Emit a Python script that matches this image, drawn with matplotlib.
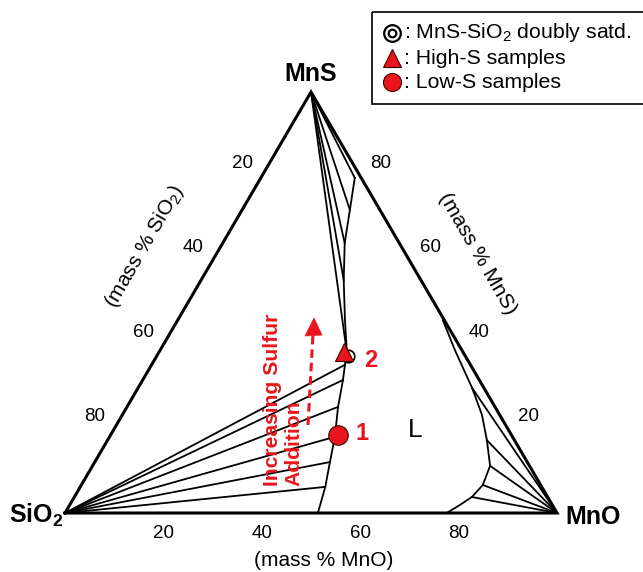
import matplotlib
matplotlib.use('Agg')
import matplotlib.pyplot as plt
from matplotlib.patches import Rectangle, Polygon
import numpy as np

plt.rcParams['font.family'] = ['Liberation Sans', 'DejaVu Sans']
plt.rcParams['mathtext.default'] = 'regular'

# compositions in mass % given as (MnO, MnS); SiO2 is the remainder
# SiO2-saturated liquidus, bottom edge up to the doubly saturated point
sio2_liq_mno = [51.4, 49.8, 47.8, 45.8, 42.9, 40.7, 39.3, 38.3]
sio2_liq_mns = [0.0, 6.2, 12.1, 18.1, 25.2, 31.6, 35.2, 38.0]
sio2_ties = [1, 2, 3, 4, 5, 6]

# MnS-saturated liquidus
mns_liq_mno = [19.1, 21.9, 24.8, 29.0, 34.0, 38.3]
mns_liq_mns = [79.6, 72.0, 64.1, 55.3, 45.8, 38.0]
mns_ties = [0, 1, 2, 3, 5]

# MnO-saturated liquidus
mno_liq_mno = [53.9, 59.9, 67.9, 73.1, 77.1, 80.8, 81.6, 80.8, 79.3, 77.6]
mno_liq_mns = [45.8, 38.7, 29.7, 23.3, 17.3, 11.2, 6.65, 3.8, 1.9, 0.0]
mno_ties = [2, 4, 5, 6, 7]

doubly_sat = (38.9, 37.3)
high_s = (37.6, 38.2)
low_s = (46.2, 18.5)

edge_ticks = [20, 40, 60, 80]

red = '#e8161c'


def tern(mno, mns):
    mno = np.asarray(mno, dtype=float)
    mns = np.asarray(mns, dtype=float)
    return (mno + mns / 2) / 100, mns / 100


W, H = 643, 572
fig = plt.figure(figsize=(W / 100, H / 100), dpi=100)
ax = fig.add_axes([65 / W, 59 / H, 492 / W, 421 / H])
ax.set_xlim(0, 1)
ax.set_ylim(0, 1)
ax.axis('off')

# triangle frame
fx, fy = tern([0, 100, 0, 0], [0, 0, 100, 0])
ax.plot(fx, fy, color='black', lw=2.2, solid_joinstyle='miter', clip_on=False, zorder=3)

lw_thin = 1.3
# SiO2 side
x, y = tern(sio2_liq_mno, sio2_liq_mns)
ax.plot(x, y, color='black', lw=lw_thin, clip_on=False)
vx, vy = tern(0, 0)
for i in sio2_ties:
    ax.plot([vx, x[i]], [vy, y[i]], color='black', lw=lw_thin)

# MnS side
x, y = tern(mns_liq_mno, mns_liq_mns)
ax.plot(x, y, color='black', lw=lw_thin)
vx, vy = tern(0, 100)
for i in mns_ties:
    ax.plot([vx, x[i]], [vy, y[i]], color='black', lw=lw_thin)

# MnO side
x, y = tern(mno_liq_mno, mno_liq_mns)
ax.plot(x, y, color='black', lw=lw_thin)
vx, vy = tern(100, 0)
for i in mno_ties:
    ax.plot([vx, x[i]], [vy, y[i]], color='black', lw=lw_thin)

# sample points
px, py = tern(*doubly_sat)
ax.plot(px, py, 'o', ms=9, mfc='white', mec='black', mew=1.2, zorder=5)
px, py = tern(*high_s)
ax.plot(px, py, '^', ms=13, mfc=red, mec='#400000', mew=0.8, zorder=6)
ax.text(px + 0.055, py - 0.02, '2', color=red, fontsize=17, fontweight='bold',
        ha='center', va='center')
px, py = tern(*low_s)
ax.plot(px, py, 'o', ms=14, mfc=red, mec='#400000', mew=0.8, zorder=6)
ax.text(px + 0.05, py + 0.005, '1', color=red, fontsize=17, fontweight='bold',
        ha='center', va='center')

ax.text(0.711, 0.198, 'L', fontsize=19, ha='center', va='center')

# vertex labels
ax.annotate('MnS', tern(0, 100), xytext=(0, 13), textcoords='offset points',
            ha='center', va='center', fontsize=18, fontweight='bold')
ax.annotate('SiO$_2$', tern(0, 0), xytext=(-21, -2), textcoords='offset points',
            ha='center', va='center', fontsize=18, fontweight='bold')
ax.annotate('MnO', tern(100, 0), xytext=(26, -3), textcoords='offset points',
            ha='center', va='center', fontsize=18, fontweight='bold')

# edge tick labels
for t in edge_ticks:
    ax.annotate(str(t), tern(0, 100 - t), xytext=(-14, 9), textcoords='offset points',
                ha='center', va='center', fontsize=13.5)
    ax.annotate(str(t), tern(100 - t, t), xytext=(15, 9), textcoords='offset points',
                ha='center', va='center', fontsize=13.5)
    ax.annotate(str(t), tern(t, 0), xytext=(0, -15), textcoords='offset points',
                ha='center', va='center', fontsize=13.5)

# axis titles
ax.annotate('(mass % SiO$_2$)', tern(0, 60), xytext=(-49, 10), textcoords='offset points',
            ha='center', va='center', fontsize=15, rotation=60)
ax.annotate('(mass % MnS)', tern(40, 60), xytext=(49, 5), textcoords='offset points',
            ha='center', va='center', fontsize=15, rotation=-60)
ax.annotate('(mass % MnO)', tern(52.5, 0), xytext=(0, -34), textcoords='offset points',
            ha='center', va='center', fontsize=15)

# overlay in pixel coordinates for the legend and arrow
ov = fig.add_axes([0, 0, 1, 1])
ov.set_xlim(0, W)
ov.set_ylim(H, 0)
ov.axis('off')

ov.add_patch(Rectangle((372, 12), 290, 92, fill=False, ec='black', lw=1.2, clip_on=False))
ov.plot(392, 33, 'o', ms=12, mfc='white', mec='black', mew=1.6)
ov.plot(392, 33, 'o', ms=5.5, mfc='white', mec='black', mew=1.6)
ov.plot(392, 58, '^', ms=13, mfc=red, mec='#400000', mew=0.8)
ov.plot(392, 82, 'o', ms=13, mfc=red, mec='#400000', mew=0.8)
ov.text(404, 33, ': MnS-SiO$_2$ doubly satd.', fontsize=15.3, va='center', ha='left')
ov.text(404, 58, ': High-S samples', fontsize=15.3, va='center', ha='left')
ov.text(404, 82, ': Low-S samples', fontsize=15.3, va='center', ha='left')

# "Increasing Sulfur Addition" with dashed arrow
ov.text(272, 486, 'Increasing Sulfur', color=red, fontsize=15.2, fontweight='bold',
        rotation=90, ha='center', va='bottom')
ov.text(294, 486, 'Addition', color=red, fontsize=15.2, fontweight='bold',
        rotation=90, ha='center', va='bottom')
ov.plot([308, 313], [425, 334], color=red, lw=2.2, dashes=(2.8, 1.6))
ov.add_patch(Polygon([[305, 336], [322, 335], [314, 318]], closed=True, fc=red, ec=red, lw=0.5))

fig.savefig('out.png', dpi=100)
